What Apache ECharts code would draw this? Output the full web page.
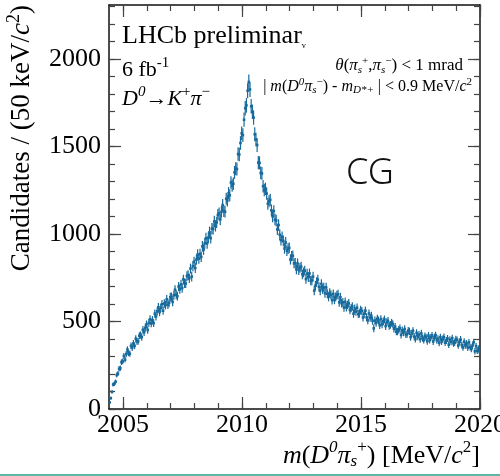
<!DOCTYPE html>
<html>
<head>
<meta charset="utf-8">
<script src="https://cdn.jsdelivr.net/npm/echarts@6/dist/echarts.min.js"></script>
<style>
  html, body { margin: 0; padding: 0; background: #fff; }
  #chart { width: 500px; height: 476px; }
</style>
</head>
<body>
<div id="chart"></div>
<script>
// ---- data ----
const binStart = 2004.435;   // centre of first 50 keV bin [MeV/c^2]
const binWidth = 0.05;       // 50 keV
const counts = [
  // 2004.4 - 2005.0
  38, 62, 98, 140, 144, 156, 194, 203, 230, 233, 268, 272,
  // 2005
  303, 282, 314, 340, 319, 316, 361, 351, 375, 361, 402, 387, 387, 419, 423, 411, 453, 439, 464, 484,
  // 2006
  452, 492, 513, 489, 509, 491, 545, 529, 558, 582, 554, 578, 599, 562, 603, 594, 627, 596, 607, 639,
  // 2007
  641, 612, 650, 682, 653, 645, 700, 685, 712, 691, 741, 719, 718, 760, 765, 748, 803, 757, 816, 842,
  // 2008
  806, 854, 883, 860, 886, 870, 930, 912, 947, 976, 947, 980, 1011, 977, 1031, 1030, 1072, 1047, 1067, 1110,
  // 2009
  1119, 1084, 1127, 1166, 1132, 1128, 1202, 1192, 1234, 1222, 1295, 1278, 1288, 1353, 1374, 1372, 1458, 1455, 1521, 1576,
  // 2010
  1566, 1654, 1720, 1736, 1820, 1870, 1827, 1731, 1700, 1666, 1571, 1541, 1509, 1409, 1407, 1350, 1347, 1274, 1252, 1259,
  // 2011
  1232, 1174, 1188, 1196, 1136, 1101, 1132, 1083, 1078, 1027, 1052, 996, 966, 983, 961, 918, 952, 905, 917, 921,
  // 2012
  855, 874, 876, 833, 834, 798, 832, 795, 807, 814, 770, 781, 791, 743, 774, 754, 775, 734, 735, 757,
  // 2013
  677, 705, 726, 740, 698, 677, 715, 685, 695, 662, 695, 659, 641, 664, 653, 622, 658, 624, 641, 650,
  // 2014
  656, 610, 639, 605, 610, 580, 613, 582, 595, 604, 566, 577, 586, 545, 573, 557, 579, 543, 546, 567,
  // 2015
  560, 523, 545, 562, 524, 507, 546, 521, 533, 504, 461, 506, 492, 516, 507, 479, 514, 484, 501, 512,
  // 2016
  474, 497, 504, 475, 481, 493, 486, 459, 470, 442, 443, 453, 461, 424, 450, 437, 457, 426, 428, 448,
  // 2017
  444, 411, 432, 447, 414, 400, 435, 413, 425, 399, 432, 405, 394, 417, 410, 387, 420, 394, 410, 420,
  // 2018
  386, 411, 421, 393, 401, 378, 410, 386, 400, 411, 379, 392, 403, 368, 396, 384, 405, 375, 379, 399,
  // 2019
  395, 363, 383, 397, 366, 352, 385, 364, 375, 351, 381, 354, 343, 363, 382, 330, 359, 332, 345, 325
];
const xMin = 2004.41, xMax = 2020;
const yMin = 0, yMax = 2310;
const xTicksMajor = [2005, 2010, 2015, 2020];
const xTicksMinor = [2005, 2006, 2007, 2008, 2009, 2010, 2011, 2012, 2013, 2014, 2015, 2016, 2017, 2018, 2019, 2020];
const yTicksMajor = [0, 500, 1000, 1500, 2000];
const yTicksMinor = [0, 100, 200, 300, 400, 500, 600, 700, 800, 900, 1000, 1100, 1200, 1300, 1400, 1500, 1600, 1700, 1800, 1900, 2000, 2100, 2200, 2300];

// ---- chart ----
const SERIF = 'Liberation Serif, "Times New Roman", DejaVu Serif, serif';
const DOT = '#176a9c';
const chart = echarts.init(document.getElementById('chart'), null, { renderer: 'canvas' });

const points = counts.map((v, i) => [binStart + i * binWidth, v, Math.sqrt(v)]);

function rich(F) {
  const s = Math.round(F * 0.66);
  return {
    n:   { fontFamily: SERIF, fontSize: F, fill: '#000' },
    it:  { fontFamily: SERIF, fontSize: F, fontStyle: 'italic', fill: '#000' },
    sup: { fontFamily: SERIF, fontSize: s, fill: '#000', padding: [0, 0, Math.round(F * 0.6), 0] },
    supi:{ fontFamily: SERIF, fontSize: s, fontStyle: 'italic', fill: '#000', padding: [0, 0, Math.round(F * 0.6), 0] },
    sub: { fontFamily: SERIF, fontSize: s, fontStyle: 'italic', fill: '#000', padding: [Math.round(F * 0.45), 0, 0, 0] },
    v:   { fontFamily: SERIF, fontSize: Math.round(F * 0.55), fill: '#000', padding: [Math.round(F * 0.55), 0, 0, 0] }
  };
}

function majorAxis(dim, pos, ticks, withLabel) {
  return {
    type: 'value', position: pos,
    min: dim === 'x' ? xMin : yMin, max: dim === 'x' ? xMax : yMax,
    axisLine: { show: true, onZero: false, lineStyle: { color: '#111', width: 1.5 } },
    axisTick: { show: true, inside: true, length: 12, customValues: ticks, lineStyle: { color: '#444', width: 1.2 } },
    axisLabel: withLabel ? {
      show: true, customValues: ticks, fontFamily: SERIF, fontSize: 26, color: '#000',
      margin: dim === 'x' ? 3 : 8,
      formatter: function (v) { return String(v); }
    } : { show: false },
    splitLine: { show: false }, minorTick: { show: false }
  };
}
function minorAxis(dim, pos, ticks) {
  return {
    type: 'value', position: pos,
    min: dim === 'x' ? xMin : yMin, max: dim === 'x' ? xMax : yMax,
    axisLine: { show: false, onZero: false },
    axisTick: { show: true, inside: true, length: 6, customValues: ticks, lineStyle: { color: '#444', width: 1.2 } },
    axisLabel: { show: false },
    splitLine: { show: false }
  };
}

const option = {
  animation: false,
  backgroundColor: '#fff',
  grid: { left: 109, right: 20, top: 5, bottom: 67, containLabel: false, outerBoundsMode: 'none' },
  xAxis: [
    majorAxis('x', 'bottom', xTicksMajor, true),
    minorAxis('x', 'bottom', xTicksMinor),
    majorAxis('x', 'top', xTicksMajor, false),
    minorAxis('x', 'top', xTicksMinor)
  ],
  yAxis: [
    majorAxis('y', 'left', yTicksMajor, true),
    minorAxis('y', 'left', yTicksMinor),
    majorAxis('y', 'right', yTicksMajor, false),
    minorAxis('y', 'right', yTicksMinor)
  ],
  series: [{
    type: 'custom',
    xAxisIndex: 0, yAxisIndex: 0,
    clip: true,
    data: points,
    renderItem: function (params, api) {
      const x = api.value(0), y = api.value(1), e = api.value(2);
      const c = api.coord([x, y]);
      const t = api.coord([x, y + e]);
      const b = api.coord([x, Math.max(y - e, 0)]);
      const l = api.coord([x - binWidth / 2, y]);
      const r = api.coord([x + binWidth / 2, y]);
      return {
        type: 'group',
        children: [
          { type: 'line', shape: { x1: c[0], y1: t[1], x2: c[0], y2: b[1] }, style: { stroke: DOT, lineWidth: 1.2 } },
          { type: 'line', shape: { x1: l[0], y1: c[1], x2: r[0], y2: c[1] }, style: { stroke: DOT, lineWidth: 1.2 } },
          { type: 'rect', shape: { x: c[0] - 1.3, y: c[1] - 1.3, width: 2.6, height: 2.6 }, style: { fill: DOT } }
        ]
      };
    }
  }],
  graphic: [
    { type: 'text', x: 122, y: 36, style: { text: 'LHCb preliminar{v|ᵥ}', fontFamily: SERIF, fontSize: 26, fill: '#000', textVerticalAlign: 'middle', rich: rich(26) } },
    { type: 'text', x: 122, y: 70, style: { text: '6 fb{sup|-1}', fontFamily: SERIF, fontSize: 22, fill: '#000', textVerticalAlign: 'middle', rich: rich(22) } },
    { type: 'text', x: 122, y: 99, style: { text: '{it|D}{supi|0}{n|→}{it|K}{sup|+}{it|π}{sup|−}', fontFamily: SERIF, fontSize: 22, fill: '#000', textVerticalAlign: 'middle', rich: rich(22) } },
    { type: 'text', x: 463, y: 66, style: { text: '{it|θ}({it|π}{sub|s}{sup|+},{it|π}{sub|s}{sup|−}) < 1 mrad', fontFamily: SERIF, fontSize: 17, fill: '#000', textAlign: 'right', textVerticalAlign: 'middle', rich: rich(17) } },
    { type: 'text', x: 472, y: 87, style: { text: '| {it|m}({it|D}{supi|0}{it|π}{sub|s}{sup|−}) - {it|m}{sub|D*+} | < 0.9 MeV/{it|c}{sup|2}', fontFamily: SERIF, fontSize: 16, fill: '#000', textAlign: 'right', textVerticalAlign: 'middle', rich: rich(16) } },
    { type: 'text', x: 346, y: 174, style: { text: 'CG', fontFamily: '"Noto Sans", "DejaVu Sans", sans-serif', fontSize: 36, fontWeight: 300, fill: '#111', textVerticalAlign: 'middle' } },
    { type: 'text', x: 22, y: 5, rotation: Math.PI / 2, style: { text: 'Candidates / (50 keV/{it|c}{sup|2})', fontFamily: SERIF, fontSize: 27, fill: '#000', textAlign: 'right', textVerticalAlign: 'middle', rich: rich(27) } },
    { type: 'text', x: 480, y: 456, style: { text: '{it|m}({it|D}{supi|0}{it|π}{sub|s}{sup|+}) [MeV/{it|c}{sup|2}]', fontFamily: SERIF, fontSize: 26, fill: '#000', textAlign: 'right', textVerticalAlign: 'middle', rich: rich(26) } },
    { type: 'line', shape: { x1: 0, y1: 475, x2: 500, y2: 475 }, style: { stroke: '#5fb5a8', lineWidth: 2 } }
  ]
};
chart.setOption(option);
</script>
</body>
</html>
